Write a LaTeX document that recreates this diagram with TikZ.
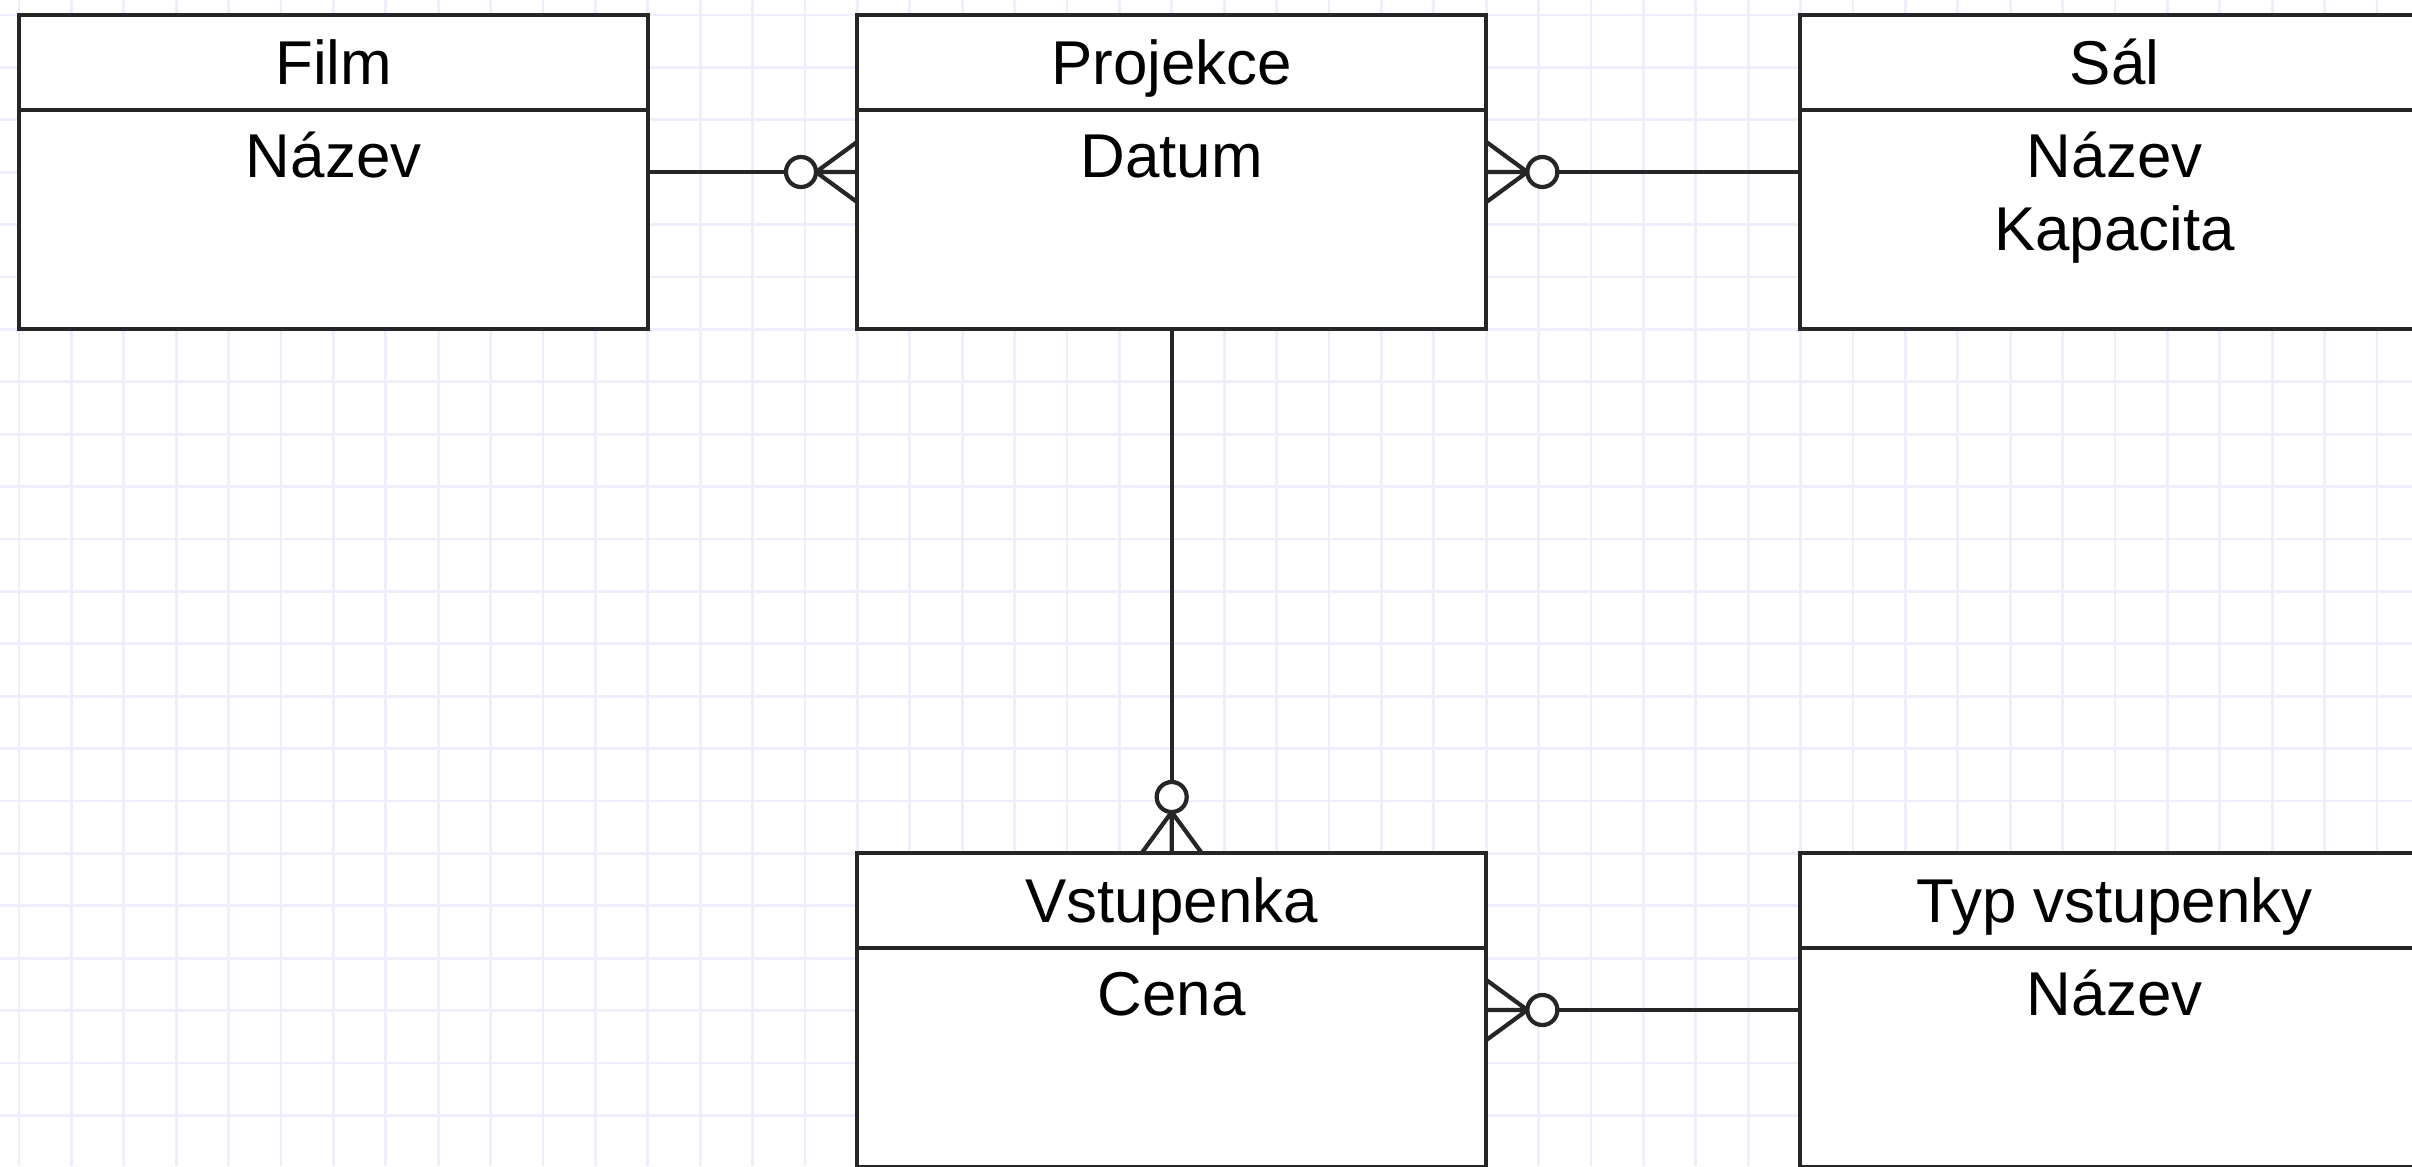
\documentclass[tikz,border=0pt]{standalone}
\usepackage{fontspec}
\setmainfont{Liberation Sans}
\usepackage{tikz}
\usetikzlibrary{calc}
\definecolor{gridblue}{RGB}{238,238,252}
\tikzset{
	entity/.style={draw=black!85, fill=white, line width=1.2pt, outer sep=0pt, inner sep=0pt, minimum width=6.29cm, minimum height=3.14cm, anchor=north west},
	label/.style={anchor=base, inner sep=0pt, font=\fontsize{17.6}{20.8}\selectfont},
	rel/.style={draw=black!85, line width=1.2pt},
	gridline/.style={draw=gridblue, line width=0.8pt}
}
\def\crowfoot(#1)(#2){\begin{scope}[shift={(#1)}, rotate=#2] \draw[rel] (0,-30) -- (41,0) -- (0,30) (0,0) -- (41,0); \draw[rel, fill=white] (56,0) circle[radius=0.15cm]; \end{scope}}

\begin{document}
\begin{tikzpicture}[x=0.01cm, y=-0.01cm]
		%%%%% START %%%%%
		
		\useasboundingbox (0,0) rectangle (2412,1166);
		\clip (0,0) rectangle (2412,1166);
		\fill[white] (0,0) rectangle (2412,1166);
		
		\foreach \i in {0,...,45} \draw[gridline] ({19+52.4*\i},0) -- ++(0,1166);
		\foreach \j in {0,...,21} \draw[gridline] (0,{15+52.4*\j}) -- ++(2412,0);
		
		\node[entity] (film) at (19, 15) {};
		\node[entity] (projekce) at (857, 15) {};
		\node[entity] (sal) at (1800, 15) {};
		\node[entity] (vstupenka) at (857, 853) {};
		\node[entity] (typ) at (1800, 853) {};
		
		\foreach \e in {film, projekce, sal, vstupenka, typ}
			\draw[rel] ($(\e.north west)+(0,95)$) -- ($(\e.north east)+(0,95)$);
		
		\node[label] (film-title) at ($(film.north)+(0,69)$) {Film};
		\node[label] (film-name) at ($(film.north)+(0,162)$) {Název};
		
		\node[label] (projekce-title) at ($(projekce.north)+(0,69)$) {Projekce};
		\node[label] (projekce-date) at ($(projekce.north)+(0,162)$) {Datum};
		
		\node[label] (sal-title) at ($(sal.north)+(0,69)$) {Sál};
		\node[label] (sal-name) at ($(sal.north)+(0,162)$) {Název};
		\node[label] (sal-cap) at ($(sal.north)+(0,235)$) {Kapacita};
		
		\node[label] (vstupenka-title) at ($(vstupenka.north)+(0,69)$) {Vstupenka};
		\node[label] (vstupenka-price) at ($(vstupenka.north)+(0,162)$) {Cena};
		
		\node[label] (typ-title) at ($(typ.north)+(0,69)$) {Typ vstupenky};
		\node[label] (typ-name) at ($(typ.north)+(0,162)$) {Název};
		
		\draw[rel] ($(film.north east)+(0,157)$) -- ($(projekce.north west)+(0,157)$);
		\crowfoot($(projekce.north west)+(0,157)$)(180);
		
		\draw[rel] ($(projekce.north east)+(0,157)$) -- ($(sal.north west)+(0,157)$);
		\crowfoot($(projekce.north east)+(0,157)$)(0);
		
		\draw[rel] (projekce.south) -- (vstupenka.north);
		\crowfoot(vstupenka.north)(90);
		
		\draw[rel] ($(vstupenka.north east)+(0,157)$) -- ($(typ.north west)+(0,157)$);
		\crowfoot($(vstupenka.north east)+(0,157)$)(0);
		
		%%%%% END %%%%%
\end{tikzpicture}
\end{document}
